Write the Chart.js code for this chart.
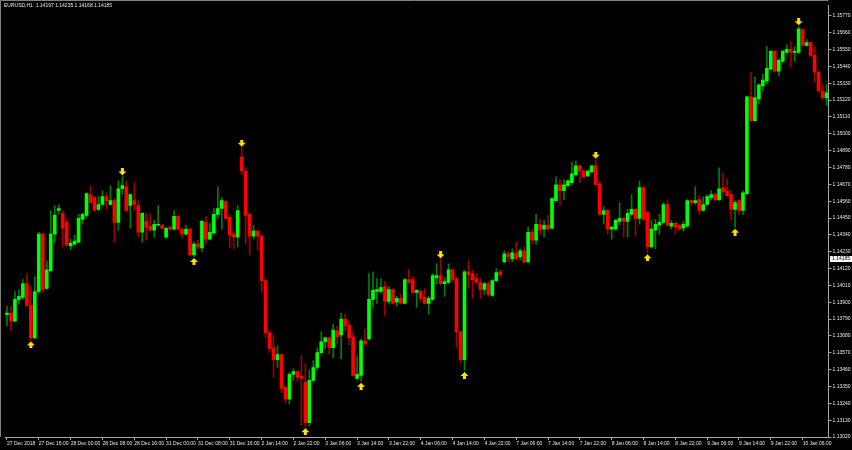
<!DOCTYPE html>
<html>
<head>
<meta charset="utf-8">
<title>EURUSD,H1</title>
<script src="https://cdn.jsdelivr.net/npm/chart.js@4.4.1/dist/chart.umd.min.js"></script>
<style>
  html, body { margin: 0; padding: 0; background: #000; }
  #wrap { width: 852px; height: 450px; }
</style>
</head>
<body>
<div id="wrap"><canvas id="chart" width="852" height="450"></canvas></div>
<script>
const symbol = 'EURUSD,H1';
const quote = [1.14197, 1.14235, 1.14168, 1.14185];

// one label every 8 bars
const timeLabels = [
  '27 Dec 2018', '27 Dec 16:00', '28 Dec 00:00', '28 Dec 08:00', '28 Dec 16:00',
  '31 Dec 00:00', '31 Dec 08:00', '31 Dec 16:00', '2 Jan 14:00', '2 Jan 22:00',
  '3 Jan 06:00', '3 Jan 14:00', '3 Jan 22:00', '4 Jan 06:00', '4 Jan 14:00',
  '4 Jan 22:00', '7 Jan 06:00', '7 Jan 14:00', '7 Jan 22:00', '8 Jan 06:00',
  '8 Jan 14:00', '8 Jan 22:00', '9 Jan 06:00', '9 Jan 14:00', '9 Jan 22:00',
  '10 Jan 06:00'
];

const priceTicks = [
  1.13020, 1.13130, 1.13240, 1.13350, 1.13460, 1.13570, 1.13680, 1.13790, 1.13900,
  1.14010, 1.14120, 1.14230, 1.14340, 1.14450, 1.14560, 1.14670, 1.14780, 1.14890,
  1.15000, 1.15110, 1.15220, 1.15330, 1.15440, 1.15550, 1.15660, 1.15770
];

const opens = [
  1.13819, 1.13829, 1.13777, 1.13919, 1.13932, 1.14022, 1.13880, 1.13667, 1.13970, 1.14345,
  1.13990, 1.14106, 1.14345, 1.14499, 1.14480, 1.14422, 1.14267, 1.14280, 1.14293, 1.14441,
  1.14467, 1.14603, 1.14583, 1.14506, 1.14538, 1.14590, 1.14538, 1.14564, 1.14422, 1.14641,
  1.14654, 1.14532, 1.14564, 1.14532, 1.14357, 1.14428, 1.14396, 1.14370, 1.14403, 1.14403,
  1.14325, 1.14390, 1.14377, 1.14461, 1.14377, 1.14345, 1.14377, 1.14209, 1.14280, 1.14254,
  1.14422, 1.14312, 1.14351, 1.14474, 1.14512, 1.14557, 1.14454, 1.14345, 1.14325, 1.14848,
  1.14757, 1.14474, 1.14332, 1.14364, 1.14332, 1.14041, 1.13700, 1.13603, 1.13525, 1.13558,
  1.13345, 1.13267, 1.13429, 1.13448, 1.13416, 1.13377, 1.13113, 1.13390, 1.13474, 1.13571,
  1.13642, 1.13667, 1.13603, 1.13712, 1.13687, 1.13790, 1.13751, 1.13674, 1.13403, 1.13422,
  1.13648, 1.13661, 1.13919, 1.13970, 1.13970, 1.14003, 1.13906, 1.13983, 1.13900, 1.13925,
  1.13893, 1.14048, 1.14048, 1.13964, 1.13970, 1.13932, 1.13893, 1.13919, 1.14061, 1.14074,
  1.14022, 1.14029, 1.14112, 1.14054, 1.13706, 1.13525, 1.14099, 1.14087, 1.14054, 1.14029,
  1.13983, 1.14022, 1.13945, 1.14041, 1.14099, 1.14164, 1.14216, 1.14183, 1.14222, 1.14196,
  1.14235, 1.14164, 1.14357, 1.14306, 1.14409, 1.14377, 1.14403, 1.14383, 1.14564, 1.14667,
  1.14628, 1.14661, 1.14680, 1.14732, 1.14790, 1.14757, 1.14725, 1.14751, 1.14790, 1.14674,
  1.14474, 1.14499, 1.14377, 1.14377, 1.14428, 1.14448, 1.14428, 1.14474, 1.14506, 1.14448,
  1.14648, 1.14487, 1.14261, 1.14370, 1.14403, 1.14422, 1.14538, 1.14396, 1.14416, 1.14403,
  1.14383, 1.14396, 1.14564, 1.14551, 1.14570, 1.14499, 1.14538, 1.14583, 1.14603, 1.14570,
  1.14648, 1.14628, 1.14603, 1.14506, 1.14564, 1.14499, 1.14609, 1.15241, 1.15086, 1.15228,
  1.15312, 1.15344, 1.15422, 1.15538, 1.15409, 1.15473, 1.15531, 1.15551, 1.15531, 1.15531,
  1.15680, 1.15577, 1.15596, 1.15512, 1.15402, 1.15280, 1.15235
];

const highs = [
  1.13874, 1.13874, 1.13970, 1.13983, 1.14048, 1.14087, 1.14003, 1.14067, 1.14357, 1.14351,
  1.14170, 1.14499, 1.14532, 1.14538, 1.14499, 1.14441, 1.14312, 1.14338, 1.14474, 1.14480,
  1.14615, 1.14661, 1.14590, 1.14590, 1.14628, 1.14615, 1.14661, 1.14577, 1.14693, 1.14719,
  1.14693, 1.14609, 1.14680, 1.14564, 1.14486, 1.14480, 1.14474, 1.14435, 1.14532, 1.14409,
  1.14390, 1.14396, 1.14499, 1.14467, 1.14383, 1.14403, 1.14383, 1.14293, 1.14306, 1.14435,
  1.14461, 1.14416, 1.14512, 1.14654, 1.14583, 1.14564, 1.14474, 1.14357, 1.14532, 1.14906,
  1.14777, 1.14486, 1.14403, 1.14370, 1.14338, 1.14048, 1.13712, 1.13687, 1.13616, 1.13564,
  1.13351, 1.13442, 1.13467, 1.13454, 1.13551, 1.13500, 1.13461, 1.13519, 1.13603, 1.13706,
  1.13674, 1.13674, 1.13758, 1.13745, 1.13829, 1.13822, 1.13777, 1.13706, 1.13551, 1.13661,
  1.13725, 1.14087, 1.14099, 1.14054, 1.14054, 1.14035, 1.14003, 1.13990, 1.13938, 1.13951,
  1.14054, 1.14112, 1.14067, 1.13983, 1.13983, 1.13990, 1.13938, 1.14087, 1.14151, 1.14177,
  1.14061, 1.14151, 1.14119, 1.14067, 1.13712, 1.14106, 1.14170, 1.14112, 1.14087, 1.14054,
  1.14029, 1.14035, 1.14048, 1.14119, 1.14112, 1.14235, 1.14229, 1.14248, 1.14293, 1.14248,
  1.14261, 1.14390, 1.14377, 1.14474, 1.14441, 1.14435, 1.14467, 1.14583, 1.14719, 1.14699,
  1.14699, 1.14699, 1.14815, 1.14822, 1.14796, 1.14764, 1.14764, 1.14796, 1.14828, 1.14693,
  1.14525, 1.14506, 1.14396, 1.14441, 1.14551, 1.14454, 1.14506, 1.14603, 1.14512, 1.14693,
  1.14654, 1.14493, 1.14435, 1.14441, 1.14474, 1.14551, 1.14570, 1.14435, 1.14422, 1.14409,
  1.14428, 1.14570, 1.14570, 1.14654, 1.14596, 1.14590, 1.14603, 1.14628, 1.14615, 1.14777,
  1.14745, 1.14706, 1.14628, 1.14564, 1.14570, 1.14628, 1.15248, 1.15402, 1.15370, 1.15325,
  1.15390, 1.15570, 1.15544, 1.15544, 1.15493, 1.15544, 1.15583, 1.15602, 1.15570, 1.15699,
  1.15686, 1.15615, 1.15602, 1.15570, 1.15409, 1.15325, 1.15319
];

const lows = [
  1.13745, 1.13712, 1.13771, 1.13887, 1.13919, 1.13874, 1.13654, 1.13664, 1.13958, 1.13964,
  1.13983, 1.14099, 1.14287, 1.14474, 1.14261, 1.14267, 1.14241, 1.14274, 1.14287, 1.14409,
  1.14454, 1.14545, 1.14493, 1.14499, 1.14532, 1.14506, 1.14532, 1.14293, 1.14370, 1.14603,
  1.14493, 1.14383, 1.14499, 1.14325, 1.14293, 1.14306, 1.14364, 1.14325, 1.14396, 1.14377,
  1.14319, 1.14370, 1.14370, 1.14370, 1.14319, 1.14338, 1.14206, 1.14199, 1.14248, 1.14228,
  1.14280, 1.14306, 1.14345, 1.14448, 1.14377, 1.14441, 1.14254, 1.14248, 1.14261, 1.14732,
  1.14280, 1.14209, 1.14312, 1.14241, 1.13970, 1.13667, 1.13571, 1.13409, 1.13474, 1.13306,
  1.13242, 1.13235, 1.13390, 1.13384, 1.13100, 1.13087, 1.13093, 1.13384, 1.13454, 1.13564,
  1.13596, 1.13558, 1.13538, 1.13629, 1.13532, 1.13712, 1.13622, 1.13416, 1.13396, 1.13384,
  1.13616, 1.13654, 1.13861, 1.13893, 1.13958, 1.13809, 1.13887, 1.13887, 1.13874, 1.13887,
  1.13887, 1.14022, 1.13958, 1.13867, 1.13906, 1.13887, 1.13822, 1.13912, 1.14016, 1.14016,
  1.13938, 1.14022, 1.14035, 1.13603, 1.13506, 1.13454, 1.13990, 1.13925, 1.14022, 1.13925,
  1.13951, 1.13938, 1.13938, 1.14035, 1.14067, 1.14157, 1.14164, 1.14164, 1.14177, 1.14177,
  1.14157, 1.14157, 1.14280, 1.14280, 1.14338, 1.14325, 1.14370, 1.14377, 1.14557, 1.14532,
  1.14570, 1.14654, 1.14667, 1.14725, 1.14680, 1.14712, 1.14719, 1.14745, 1.14661, 1.14467,
  1.14409, 1.14345, 1.14312, 1.14370, 1.14403, 1.14325, 1.14325, 1.14467, 1.14332, 1.14409,
  1.14435, 1.14222, 1.14254, 1.14248, 1.14345, 1.14409, 1.14396, 1.14377, 1.14345, 1.14370,
  1.14364, 1.14390, 1.14532, 1.14538, 1.14474, 1.14493, 1.14532, 1.14570, 1.14564, 1.14564,
  1.14603, 1.14590, 1.14441, 1.14390, 1.14474, 1.14474, 1.14603, 1.15080, 1.15080, 1.15196,
  1.15280, 1.15325, 1.15415, 1.15402, 1.15377, 1.15467, 1.15519, 1.15435, 1.15473, 1.15525,
  1.15570, 1.15570, 1.15506, 1.15338, 1.15273, 1.15228, 1.15183
];

const closes = [
  1.13829, 1.13777, 1.13919, 1.13938, 1.14022, 1.13880, 1.13667, 1.13970, 1.14345, 1.13983,
  1.14112, 1.14345, 1.14467, 1.14512, 1.14383, 1.14274, 1.14287, 1.14299, 1.14448, 1.14474,
  1.14609, 1.14551, 1.14499, 1.14538, 1.14590, 1.14564, 1.14564, 1.14422, 1.14641, 1.14661,
  1.14499, 1.14603, 1.14538, 1.14357, 1.14480, 1.14390, 1.14370, 1.14409, 1.14409, 1.14383,
  1.14383, 1.14377, 1.14461, 1.14377, 1.14345, 1.14377, 1.14209, 1.14280, 1.14261, 1.14428,
  1.14312, 1.14357, 1.14474, 1.14512, 1.14564, 1.14448, 1.14338, 1.14325, 1.14499, 1.14757,
  1.14467, 1.14332, 1.14364, 1.14332, 1.14041, 1.13700, 1.13596, 1.13525, 1.13558, 1.13338,
  1.13267, 1.13429, 1.13448, 1.13409, 1.13403, 1.13113, 1.13390, 1.13474, 1.13571, 1.13642,
  1.13667, 1.13603, 1.13719, 1.13674, 1.13790, 1.13745, 1.13667, 1.13422, 1.13429, 1.13648,
  1.13629, 1.13919, 1.13977, 1.13983, 1.13996, 1.13906, 1.13983, 1.13893, 1.13925, 1.13893,
  1.14048, 1.14029, 1.13964, 1.13977, 1.13925, 1.13893, 1.13925, 1.14074, 1.14074, 1.14022,
  1.14035, 1.14112, 1.14048, 1.13706, 1.13525, 1.14099, 1.14080, 1.14048, 1.14029, 1.13983,
  1.14022, 1.13951, 1.14041, 1.14093, 1.14080, 1.14216, 1.14196, 1.14222, 1.14183, 1.14235,
  1.14164, 1.14357, 1.14306, 1.14409, 1.14370, 1.14403, 1.14377, 1.14577, 1.14667, 1.14628,
  1.14667, 1.14693, 1.14738, 1.14790, 1.14757, 1.14719, 1.14757, 1.14790, 1.14667, 1.14474,
  1.14499, 1.14377, 1.14390, 1.14435, 1.14448, 1.14428, 1.14480, 1.14506, 1.14448, 1.14648,
  1.14441, 1.14261, 1.14377, 1.14409, 1.14422, 1.14538, 1.14403, 1.14416, 1.14390, 1.14377,
  1.14409, 1.14564, 1.14551, 1.14564, 1.14499, 1.14538, 1.14590, 1.14603, 1.14570, 1.14641,
  1.14622, 1.14596, 1.14506, 1.14551, 1.14499, 1.14615, 1.15241, 1.15086, 1.15235, 1.15319,
  1.15351, 1.15428, 1.15538, 1.15409, 1.15480, 1.15538, 1.15551, 1.15531, 1.15538, 1.15686,
  1.15577, 1.15596, 1.15512, 1.15402, 1.15280, 1.15235, 1.15267
];

// bar indexes that carry a fractal arrow
const fractalHighs = [29, 59, 109, 148, 199];
const fractalLows = [6, 47, 75, 89, 115, 161, 183];

const BG = '#000000';
const UP_BODY = '#00ff00';
const DOWN_BODY = '#ff0000';
const UP_WICK = '#008000';
const DOWN_WICK = '#a00000';
const ARROW = '#ffe000';
const AXIS = '#a8a8a8';
const TEXT = '#e6e6e6';
const FONT = { family: '"Liberation Sans", Arial, sans-serif', size: 5 };

function makeArrow(pointsUp) {
  // arrow glyph sits off-centre so the point itself can be the bar's high/low
  const c = document.createElement('canvas');
  c.width = 9;
  c.height = 17;
  const ctx = c.getContext('2d');
  ctx.fillStyle = ARROW;
  const rows = [[4, 1], [3, 3], [2, 5], [1, 7], [3, 3], [3, 3], [3, 3]];
  rows.forEach(([x, w], r) => {
    const y = pointsUp ? 10 + r : 6 - r;
    ctx.fillRect(x, y, w, 1);
  });
  return c;
}

const isUp = closes.map((c, i) => c >= opens[i]);
const labels = opens.map((_, i) => (i % 8 === 0 ? timeLabels[i / 8] : ''));

const background = {
  id: 'background',
  beforeDraw(chart) {
    const { ctx, width, height } = chart;
    ctx.save();
    ctx.fillStyle = BG;
    ctx.fillRect(0, 0, width, height);
    ctx.restore();
  },
};

const overlay = {
  id: 'overlay',
  afterDraw(chart) {
    const { ctx, chartArea, width } = chart;
    const yScale = chart.scales.y;
    ctx.save();
    // frame
    ctx.strokeStyle = '#808080';
    ctx.lineWidth = 1;
    ctx.beginPath();
    ctx.moveTo(0.5, chartArea.bottom);
    ctx.lineTo(0.5, 0.5);
    ctx.lineTo(chartArea.right, 0.5);
    ctx.stroke();

    // header
    ctx.fillStyle = TEXT;
    ctx.font = `${FONT.size}px ${FONT.family}`;
    ctx.textBaseline = 'middle';
    ctx.textAlign = 'left';
    ctx.fillText(`${symbol}  ${quote.map((q) => q.toFixed(5)).join(' ')}`, 4, 6);

    // current price box
    const y = Math.round(yScale.getPixelForValue(quote[3]));
    const x = chartArea.right + 1.5;
    ctx.fillStyle = '#ffffff';
    ctx.fillRect(x, y - 3, width - x, 6);
    ctx.fillStyle = '#000000';
    ctx.fillText(quote[3].toFixed(5), x + 2, y);
    ctx.restore();
  },
};

new Chart(document.getElementById('chart'), {
  type: 'bar',
  data: {
    labels,
    datasets: [
      {
        type: 'line',
        label: 'fractal up',
        data: highs.map((h, i) => (fractalHighs.includes(i) ? h : null)),
        showLine: false,
        pointStyle: makeArrow(false),
        pointRadius: 4,
        order: 0,
      },
      {
        type: 'line',
        label: 'fractal down',
        data: lows.map((l, i) => (fractalLows.includes(i) ? l : null)),
        showLine: false,
        pointStyle: makeArrow(true),
        pointRadius: 4,
        order: 0,
      },
      {
        label: 'body',
        data: opens.map((o, i) => [o, closes[i]]),
        backgroundColor: isUp.map((u) => (u ? UP_BODY : DOWN_BODY)),
        barThickness: 3,
        minBarLength: 1,
        grouped: false,
        borderWidth: 0,
        order: 1,
      },
      {
        label: 'wick',
        data: lows.map((l, i) => [l, highs[i]]),
        backgroundColor: isUp.map((u) => (u ? UP_WICK : DOWN_WICK)),
        barThickness: 1,
        grouped: false,
        borderWidth: 0,
        order: 2,
      },
    ],
  },
  options: {
    responsive: false,
    animation: false,
    devicePixelRatio: 1,
    layout: { padding: { left: 0.5, right: 0, top: 0, bottom: 0 } },
    plugins: { legend: { display: false }, tooltip: { enabled: false } },
    events: [],
    scales: {
      x: {
        offset: true,
        grid: { drawOnChartArea: false, drawTicks: true, tickLength: 3, color: AXIS, offset: false },
        border: { display: true, color: AXIS },
        ticks: { color: TEXT, font: FONT, maxRotation: 0, autoSkip: false, align: 'start', padding: 1 },
        afterBuildTicks: (s) => { s.ticks = s.ticks.filter((t) => t.value % 8 === 0); },
        afterFit: (s) => { s.height = 13; },
      },
      y: {
        position: 'right',
        min: 1.1302,
        max: 1.15841,
        grid: { drawOnChartArea: false, drawTicks: true, tickLength: 3, color: AXIS },
        border: { display: true, color: AXIS },
        ticks: { color: TEXT, font: FONT, padding: 1, autoSkip: false, callback: (v) => Number(v).toFixed(5) },
        afterBuildTicks: (s) => { s.ticks = priceTicks.map((v) => ({ value: v })); },
        afterFit: (s) => { s.width = 23.5; },
      },
    },
  },
  plugins: [background, overlay],
});
</script>
</body>
</html>
